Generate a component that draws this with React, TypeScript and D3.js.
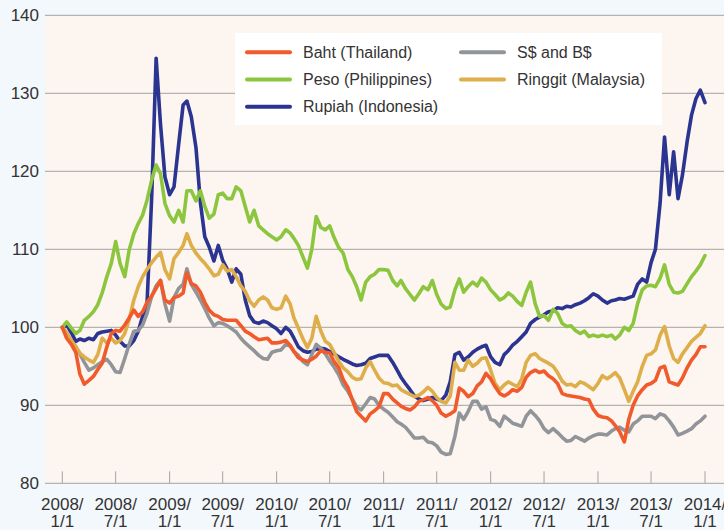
import React from 'react';
import * as d3 from 'd3';

// Semi-monthly readings (1st and 16th of each month), 2008/1/1 .. 2014/1/1, index 2008/1/1 = 100
const baht = [
  100, 98.6, 97.8, 96.8, 94.0, 92.7, 93.2, 93.7, 94.6, 95.4, 97.5, 99.2, 99.6, 99.5, 100.3, 101.2, 102.2, 101.4, 102.0, 103.2, 104.0, 105.0, 106.0, 103.5, 103.1,
  103.8, 104, 104.4, 107, 105.6, 105.3, 104.5, 103.2, 102.2, 101.6, 101.4, 101, 100.9, 100.9, 100.9, 100.2, 99.5, 99.2, 98.8, 98.4, 98.5, 98.6, 98, 98,
  98.1, 98.3, 97.7, 96.9, 96.1, 95.8, 95.6, 95.9, 96.3, 97, 96.8, 96.7, 95.6, 94.8, 93.3, 92.3, 90.7, 89.2, 88.6, 88, 88.9, 89.3, 89.8, 91.5,
  91.5, 90.8, 90.3, 89.9, 89.6, 89.4, 89.8, 90.5, 90.7, 91, 90.6, 90, 89, 88.6, 88.9, 89.3, 92.2, 91.8, 91.1, 91.5, 92.5, 93, 94.1, 93.4,
  92.4, 91.5, 91.2, 91.5, 92, 91.8, 92.3, 93.6, 94.2, 94.5, 94.2, 94.4, 93.8, 93.4, 92.8, 91.5, 91.3, 91.2, 91.1, 91, 90.8, 90.7, 89.5, 88.7,
  88.5, 88.4, 88, 87.4, 86.6, 85.3, 88.2, 90, 91.2, 92, 92.6, 92.8, 93.2, 94.8, 95, 93, 92.8, 92.6, 93.5, 94.8, 95.8, 96.5, 97.5, 97.5,
];

const peso = [
  100, 100.7, 99.9, 99.2, 99.6, 100.9, 101.4, 102, 102.9, 104.4, 106.5, 108.2, 111, 108.2, 106.5, 109.9, 112, 113.3, 114.4, 116.3, 118.9, 120.8, 119.7, 115.9, 114.3,
  113.5, 115, 113.5, 117.5, 117.5, 116.2, 117.5, 115.5, 114, 114.5, 117, 117.2, 116.5, 116.5, 118, 117.5, 115.5, 113.5, 115, 113, 112.5, 112, 111.6, 111.2,
  111.6, 112.5, 112.1, 111.4, 110.5, 109, 107.6, 110, 114.2, 112.8, 112.5, 113, 111.5, 110.2, 109.5, 107.4, 106.5, 105.2, 103.5, 105.8, 106.5, 106.8, 107.4, 107.4,
  107.3, 106, 105.3, 106, 105, 104.2, 103.5, 104.3, 105.2, 104.8, 106, 104.2, 103, 102.4, 102.6, 104.8, 106.2, 104.5, 105.2, 105.8, 105.3, 106.3, 105.8, 104.8,
  104.2, 103.5, 103.8, 104.4, 104, 103.3, 102.8, 104.5, 105.8, 103, 101.4, 101.5, 100.9, 102.3, 101.8, 100.5, 100.1, 100.2, 99.6, 99.2, 99.5, 98.8, 99, 98.8,
  99, 98.8, 99, 98.5, 99, 100, 99.6, 100.5, 103, 104.8, 105.3, 105.4, 105.2, 106.3, 108, 105.5, 104.5, 104.4, 104.6, 105.6, 106.5, 107.2, 108, 109.2,
];

const rupiah = [
  100, 100.3, 99.3, 98.2, 98.5, 98.3, 98.6, 98.4, 99.2, 99.4, 99.5, 99.6, 99.0, 98.2, 97.6, 97.6, 98.3, 99.5, 101.4, 103, 116.8, 134.5, 126, 119.3, 117,
  118, 123.5, 128.5, 129, 127, 123, 116, 111.6, 110.3, 108.5, 110.5, 108.6, 107.5, 105.8, 107.5, 106.8, 103.5, 101.5, 100.7, 100.5, 100.8, 100.6, 100.2, 99.8,
  99.2, 100, 99.5, 98.6, 97.5, 97, 96.8, 96.9, 97.2, 97.3, 97.2, 96.9, 96.6, 96.2, 95.9, 95.6, 95.3, 95.1, 95.2, 95.4, 96, 96.2, 96.4, 96.4,
  96.4, 95.5, 94.5, 93.6, 92.8, 92, 91.2, 90.8, 90.6, 90.8, 91, 90.8, 90.6, 91.3, 93, 96.5, 96.8, 95.8, 96.2, 96.8, 97.2, 97.5, 97.7, 96.2,
  95.5, 95.2, 96.5, 97, 97.7, 98.2, 98.8, 99.4, 100.5, 101, 101.3, 101.6, 102, 102.1, 102.5, 102.4, 102.7, 102.6, 102.9, 103.1, 103.4, 103.8, 104.3, 104,
  103.5, 103.1, 103.4, 103.5, 103.7, 103.6, 103.8, 104, 105.5, 106.2, 105.8, 108.3, 110, 116, 124.4, 117, 122.5, 116.5, 119.5, 123.8, 127.2, 129.3, 130.4, 128.8,
];

const sgdBnd = [
  100, 99.3, 98.3, 97.5, 96.6, 95.5, 94.5, 94.8, 95.2, 95.6, 95.9, 95.2, 94.3, 94.2, 96.0, 97.8, 99.5, 99.6, 100.3, 101.8, 104, 105.3, 106.0, 103, 100.8,
  103.8, 105, 105.5, 107.5, 105.5, 104.5, 103.5, 102.4, 101.2, 100.2, 100.6, 100.5, 100.2, 99.8, 99.4, 98.6, 98, 97.5, 97, 96.4, 96, 95.9, 96.8, 97,
  97.1, 97.8, 97.6, 96.9, 96.4, 95.6, 95.2, 96.5, 97.8, 97.3, 96.6, 95.7, 94.9, 93.9, 92.6, 91.8, 90.8, 89.8, 89.4, 90.2, 91, 90.8, 90, 89.5,
  89.1, 88.5, 87.9, 87.6, 87.2, 86.5, 85.8, 85.8, 85.9, 85.3, 85.2, 84.8, 84, 83.7, 83.8, 86, 89, 88.2, 89.2, 90.5, 90.5, 89.5, 89.8, 88.2,
  88, 87.3, 88.6, 88.2, 87.7, 87.5, 87.3, 88.6, 89.3, 88.7, 88, 87, 86.5, 87, 86.5, 85.9, 85.4, 85.5, 86, 85.7, 85.4, 85.8, 86.1, 86.3,
  86.3, 86.2, 86.7, 87, 87.2, 86.8, 86.6, 87.6, 88, 88.6, 88.6, 88.6, 88.3, 88.9, 88.7, 88, 87.2, 86.2, 86.4, 86.7, 87, 87.6, 88, 88.6,
];

const ringgit = [
  100, 99.2, 98.3, 97.5, 96.7, 96.2, 95.8, 95.5, 96.5, 98.6, 98.0, 98.6, 98.0, 98.3, 99.2, 101.0, 103.5, 105.2, 106.5, 107.4, 108.3, 109.0, 109.6, 107.4, 106.2,
  108.8, 109.6, 110.5, 112, 110.5, 109.5, 108.8, 108.2, 107.5, 106.6, 106.8, 108, 107.2, 107.4, 106.5, 105.3, 104.6, 103.4, 102.7, 103.5, 103.9, 103.5, 102.5, 102.3,
  102.5, 104, 103, 101.2, 99.9, 98.5, 97.4, 98.6, 101.4, 99.5, 98.2, 97.8, 96.8, 95.6, 94.8, 94.3, 93.6, 93.3, 93.4, 94.8, 95.6, 94.5, 93.5, 92.9,
  92.8, 92.5, 92.6, 92, 91.7, 91.4, 91.1, 91.3, 91.7, 92.3, 91.8, 91, 90.5, 90.3, 91.2, 95.5, 94.5, 94.5, 95.8, 95, 95.4, 96, 96.1, 94.5,
  92.8, 92, 92.6, 93, 92.7, 92.4, 93.4, 95.5, 96.4, 96.6, 96, 95.7, 95.4, 95, 94.2, 93.1, 92.6, 92.7, 92.4, 93, 92.8, 92.4, 92, 92.8,
  93.8, 93.4, 93.8, 94.2, 93.5, 92, 90.5, 91.8, 93, 95, 96.4, 96.6, 97.1, 99, 100.1, 97.6, 96, 95.5, 96.6, 97.4, 98.2, 98.7, 99.2, 100.2,
];

const yTicks = [80, 90, 100, 110, 120, 130, 140];
const xTickLabels = [
  ['2008/', '1/1'], ['2008/', '7/1'], ['2009/', '1/1'], ['2009/', '7/1'],
  ['2010/', '1/1'], ['2010/', '7/1'], ['2011/', '1/1'], ['2011/', '7/1'],
  ['2012/', '1/1'], ['2012/', '7/1'], ['2013/', '1/1'], ['2013/', '7/1'],
  ['2014/', '1/1'],
];

const series = [
  { name: 'Rupiah (Indonesia)', values: rupiah, color: '#2b3591' },
  { name: 'S$ and B$', values: sgdBnd, color: '#919599' },
  { name: 'Peso (Philippines)', values: peso, color: '#8cc63f' },
  { name: 'Ringgit (Malaysia)', values: ringgit, color: '#deae4b' },
  { name: 'Baht (Thailand)', values: baht, color: '#f15a2b' },
];

// legend layout: two columns
const legendCols = [
  ['Baht (Thailand)', 'Peso (Philippines)', 'Rupiah (Indonesia)'],
  ['S$ and B$', 'Ringgit (Malaysia)'],
];

const W = 724;
const H = 530;
const FONT = '"Liberation Sans", Arial, Helvetica, sans-serif';

const App = () => {
  const dates = baht.map((_, k) => new Date(2008, Math.floor(k / 2), k % 2 ? 16 : 1));

  const x = d3.scaleTime()
    .domain([new Date(2008, 0, 1), new Date(2014, 0, 1)])
    .range([62.3, 705]);

  const y = d3.scaleLinear()
    .domain([80, 140])
    .range([483.3, 15.3]);

  const xTicks = x.ticks(d3.timeMonth.every(6) as any);

  const line = d3.line<number>()
    .x((_, i) => x(dates[i]))
    .y(d => y(d));

  const colorOf = (name: string) => series.find(s => s.name === name)!.color;

  return (
    <svg width={W} height={H} style={{ position: 'absolute', left: 0, top: 0, fontFamily: FONT }}>
      <rect x={0} y={0} width={W} height={H} fill="#f3f8fc" />
      <rect x={45} y={y(140)} width={W - 45} height={y(80) - y(140)} fill="#fdf5ef" />

      {/* grid lines */}
      {yTicks.map(t => (
        <line key={t} x1={45} x2={W} y1={y(t)} y2={y(t)} stroke="#a3a3a3" strokeWidth={1} />
      ))}

      {/* x ticks */}
      {xTicks.map((d, i) => (
        <line key={i} x1={x(d)} x2={x(d)} y1={y(80)} y2={y(80) - 12} stroke="#a3a3a3" strokeWidth={1} />
      ))}

      {/* y labels */}
      {yTicks.map(t => (
        <text key={t} x={39} y={y(t)} dy="0.36em" textAnchor="end" fontSize={17} fill="#333">{t}</text>
      ))}

      {/* x labels */}
      {xTicks.map((d, i) => (
        <text key={i} x={x(d)} textAnchor="middle" fontSize={17} fill="#333">
          <tspan x={x(d)} y={509.5}>{xTickLabels[i][0]}</tspan>
          <tspan x={x(d)} y={527}>{xTickLabels[i][1]}</tspan>
        </text>
      ))}

      {/* series */}
      {series.map(s => (
        <path key={s.name} d={line(s.values) || ''} fill="none" stroke={s.color}
          strokeWidth={3.6} strokeLinejoin="round" strokeLinecap="round" />
      ))}

      {/* legend */}
      <rect x={235} y={33} width={427} height={92} fill="#ffffff" />
      {legendCols.map((col, ci) => col.map((name, ri) => {
        const lx = ci === 0 ? 247 : 461;
        const ly = 52.3 + ri * 27.2;
        return (
          <g key={name}>
            <line x1={lx} x2={lx + 43} y1={ly} y2={ly} stroke={colorOf(name)} strokeWidth={4} strokeLinecap="round" />
            <text x={lx + 56} y={ly} dy="0.36em" fontSize={16} fill="#333">{name}</text>
          </g>
        );
      }))}
    </svg>
  );
};

export default App;
